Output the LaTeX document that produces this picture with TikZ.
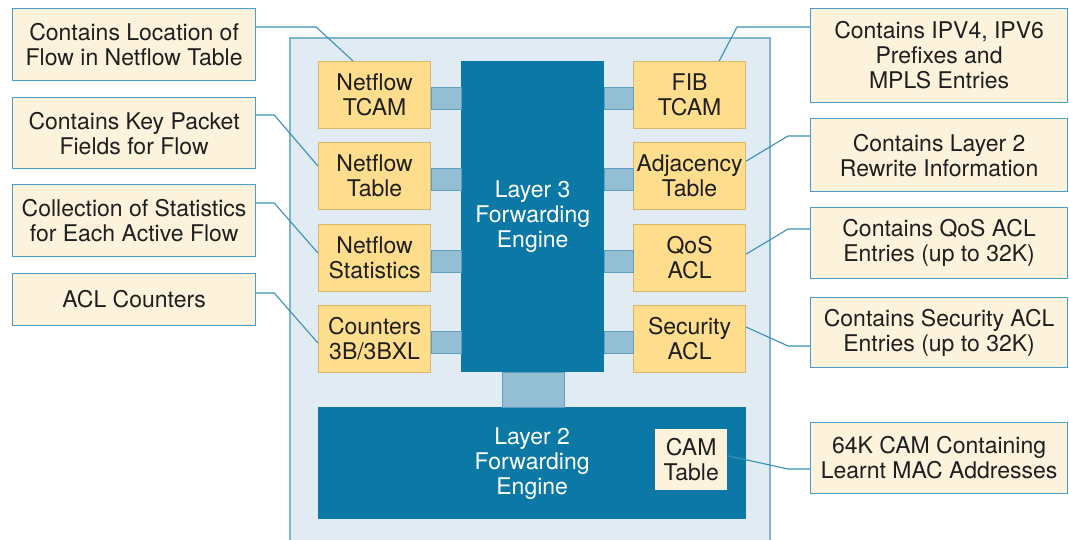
\documentclass[tikz,border=0pt]{standalone}
\usepackage{fontspec}
\setmainfont{TeX Gyre Heros}
\usetikzlibrary{calc}

\definecolor{engblue}{HTML}{0B78A5}
\definecolor{barfill}{HTML}{93BED4}
\definecolor{barline}{HTML}{5E9FC2}
\definecolor{panelfill}{HTML}{E0EBF3}
\definecolor{panelline}{HTML}{7FB4D2}
\definecolor{unitfill}{HTML}{FEDE8D}
\definecolor{unitline}{HTML}{D9B86B}
\definecolor{notefill}{HTML}{FDF3DC}
\definecolor{noteline}{HTML}{4A9DC5}
\definecolor{leadblue}{HTML}{3A90B8}

\tikzset{
  panel/.style={draw=panelline, fill=panelfill, line width=1.5pt},
  engine/.style={fill=engblue, text=white, inner sep=0pt, anchor=north west, align=center},
  unit/.style={draw=unitline, fill=unitfill, line width=1.2pt, inner sep=0pt, anchor=north west,
               align=center, minimum width=112, minimum height=67},
  bar/.style={draw=barline, fill=barfill, line width=0.8pt},
  note/.style={draw=noteline, fill=notefill, line width=1.2pt, inner sep=0pt, anchor=north west, align=center},
  lead/.style={draw=leadblue, line width=1.1pt},
  every node/.style={font=\fontsize{23}{25}\selectfont, text=black!88}
}

\begin{document}
\begin{tikzpicture}[x=1pt, y=-1pt]
\useasboundingbox (0,0) rectangle (1069,540);

% switch panel
\draw[panel] (290,38) -- (770,38) -- (770,548) -- (290,548) -- cycle;

% forwarding engines
\node[engine, minimum width=143, minimum height=311] (l3) at (461,61) {Layer 3\\Forwarding\\Engine};
\node[engine, minimum width=428, minimum height=112] (l2) at (318,407) {Layer 2\\Forwarding\\Engine};
\node[fill=notefill, inner sep=0pt, anchor=north west, align=center, minimum width=72, minimum height=61] (cam) at (655,429) {CAM\\Table};

% tables on the layer 3 engine
\node[unit] (ntcam) at (318,61) {Netflow\\TCAM};
\node[unit] (ntable) at (318,142) {Netflow\\Table};
\node[unit] (nstat) at (318,224) {Netflow\\Statistics};
\node[unit] (count) at (318,305) {Counters\\3B/3BXL};
\node[unit] (fib) at (633,61) {FIB\\TCAM};
\node[unit] (adj) at (633,142) {Adjacency\\Table};
\node[unit] (qos) at (633,224) {QoS\\ACL};
\node[unit] (sec) at (633,305) {Security\\ACL};

% links
\foreach \u in {ntcam, ntable, nstat, count} {
  \draw[bar] ($(\u.east)+(0,-8)$) rectangle ($(l3.west |- \u.east)+(0,14)$);
}
\foreach \u in {fib, adj, qos, sec} {
  \draw[bar] ($(l3.east |- \u.west)+(0,-8)$) rectangle ($(\u.west)+(0,14)$);
}
\draw[bar] ($(l3.south)+(-30,0)$) rectangle ($(l2.north -| l3.south)+(32,0)$);

% callouts
\node[note, minimum width=243, minimum height=72] (locnote) at (12,8) {Contains Location of\\Flow in Netflow Table};
\node[note, minimum width=243, minimum height=71] (keynote) at (12,97) {Contains Key Packet\\Fields for Flow};
\node[note, minimum width=243, minimum height=72] (statnote) at (12,184) {Collection of Statistics\\for Each Active Flow};
\node[note, minimum width=243, minimum height=52] (aclnote) at (12,273) {ACL Counters};
\node[note, minimum width=257, minimum height=94] (fibnote) at (810,8) {Contains IPV4, IPV6\\Prefixes and\\MPLS Entries};
\node[note, minimum width=257, minimum height=73] (adjnote) at (810,118) {Contains Layer 2\\Rewrite Information};
\node[note, minimum width=257, minimum height=71] (qosnote) at (810,207) {Contains QoS ACL\\Entries (up to 32K)};
\node[note, minimum width=257, minimum height=70] (secnote) at (810,297) {Contains Security ACL\\Entries (up to 32K)};
\node[note, minimum width=257, minimum height=71] (camnote) at (810,422) {64K CAM Containing\\Learnt MAC Addresses};

% leader lines
\draw[lead] ($(locnote.north east)+(0,19)$) -- ++(60,0) -- ($(ntcam.north west)+(35,0)$);
\draw[lead] ($(keynote.north east)+(0,18)$) -- ++(18,0) -- ($(ntable.west)+(0,-10)$);
\draw[lead] ($(statnote.north east)+(0,19)$) -- ++(18,0) -- ($(nstat.west)+(0,-5)$);
\draw[lead] ($(aclnote.north east)+(0,20)$) -- ++(18,0) -- ($(count.west)+(0,4)$);
\draw[lead] ($(fibnote.north west)+(0,19)$) -- ++(-73,0) -- ($(fib.north east)+(-27,0)$);
\draw[lead] ($(adjnote.north west)+(0,18)$) -- ++(-22,0) -- ($(adj.east)+(0,-15)$);
\draw[lead] ($(qosnote.north west)+(0,22)$) -- ++(-22,0) -- ($(qos.east)+(0,-4)$);
\draw[lead] ($(secnote.north west)+(0,49)$) -- ++(-22,0) -- ($(sec.east)+(0,-12)$);
\draw[lead] ($(camnote.north west)+(0,47)$) -- ++(-22,0) -- ($(cam.east)+(0,-4)$);

\end{tikzpicture}
\end{document}
